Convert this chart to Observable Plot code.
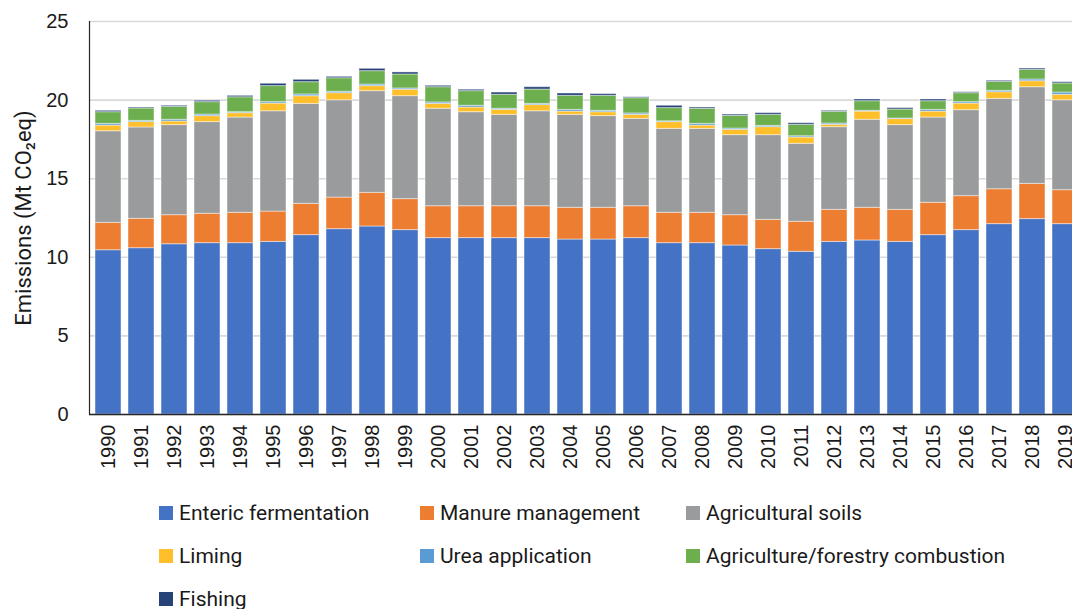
<!DOCTYPE html>
<html>
<head>
<meta charset="utf-8">
<script src="https://cdn.jsdelivr.net/npm/d3@7"></script>
<script src="https://cdn.jsdelivr.net/npm/@observablehq/plot@0.6"></script>
<style>
  html, body { margin: 0; padding: 0; background: #fff; overflow: hidden; width: 1072px; height: 609px; }
  #chart svg { overflow: hidden !important; max-width: none !important; display: block; }
  #legend { font-family: Roboto, "Noto Sans", sans-serif; font-size: 21px; color: #1a1a1a;
            padding-top: 11px; padding-left: 159px; display: grid;
            grid-template-columns: 261px 266px auto; grid-auto-rows: 43px; }
  .item { display: flex; align-items: center; height: 43px; white-space: nowrap; }
  .sw { width: 14px; height: 14px; margin-right: 6px; flex: none; }
</style>
</head>
<body>
<div id="chart"></div>
<div id="legend"></div>
<script>
const years = ["1990","1991","1992","1993","1994","1995","1996","1997","1998","1999",
  "2000","2001","2002","2003","2004","2005","2006","2007","2008","2009",
  "2010","2011","2012","2013","2014","2015","2016","2017","2018","2019"];
const seriesNames = ["Enteric fermentation","Manure management","Agricultural soils",
  "Liming","Urea application","Agriculture/forestry combustion","Fishing"];
const seriesColors = ["#4472c4","#ed7d31","#999b9c","#ffbf2a","#5b9bd5","#6daf4f","#264478"];

const enteric = [10.45,10.58,10.83,10.90,10.90,10.98,11.41,11.79,11.96,11.73,
  11.22,11.22,11.22,11.22,11.13,11.13,11.22,10.90,10.90,10.75,
  10.52,10.35,10.98,11.07,10.98,11.41,11.73,12.11,12.43,12.11];
const manure = [1.74,1.87,1.85,1.87,1.93,1.93,1.99,2.01,2.14,1.97,
  2.03,2.03,2.03,2.03,2.02,2.02,2.03,1.93,1.93,1.93,
  1.86,1.91,2.04,2.08,2.04,2.06,2.16,2.22,2.24,2.16];
const soils = [5.83,5.81,5.73,5.83,6.06,6.38,6.36,6.19,6.47,6.55,
  6.20,5.98,5.81,6.04,5.91,5.83,5.56,5.34,5.34,5.09,
  5.39,4.96,5.26,5.60,5.39,5.42,5.47,5.75,6.15,5.72];
const liming = [0.36,0.34,0.23,0.38,0.28,0.49,0.49,0.45,0.32,0.41,
  0.31,0.30,0.32,0.39,0.21,0.25,0.25,0.43,0.21,0.34,
  0.51,0.40,0.15,0.52,0.38,0.38,0.42,0.42,0.38,0.35];
const urea = [0.11,0.08,0.11,0.10,0.06,0.09,0.11,0.09,0.10,0.08,
  0.09,0.11,0.07,0.08,0.11,0.09,0.09,0.05,0.11,0.08,
  0.08,0.08,0.08,0.05,0.04,0.11,0.09,0.09,0.11,0.14];
const combustion = [0.74,0.79,0.82,0.79,0.95,1.02,0.78,0.86,0.85,0.89,
  0.97,0.93,0.89,0.91,0.89,0.95,0.97,0.84,0.96,0.81,
  0.70,0.73,0.75,0.61,0.57,0.55,0.57,0.57,0.62,0.58];
const fishing = [0.09,0.06,0.07,0.09,0.09,0.15,0.15,0.09,0.15,0.13,
  0.09,0.09,0.14,0.15,0.15,0.11,0.06,0.15,0.08,0.08,
  0.11,0.10,0.06,0.11,0.09,0.11,0.06,0.07,0.08,0.08];
const yTicks = [0,5,10,15,20,25];

const seriesValues = [enteric, manure, soils, liming, urea, combustion, fishing];
const data = [];
seriesNames.forEach((name, s) => {
  years.forEach((yr, i) => data.push({year: yr, source: name, value: seriesValues[s][i]}));
});

const chart = Plot.plot({
  width: 1072,
  height: 480,
  marginTop: 21,
  marginBottom: 66,
  marginLeft: 89,
  marginRight: 0,
  style: {fontFamily: "'Liberation Sans', Arial, sans-serif", fontSize: "20px", color: "#1a1a1a", overflow: "hidden"},
  x: {domain: years, range: [89, 1084], paddingInner: 0.2, paddingOuter: 0.1, label: null},
  y: {domain: [0, 25], label: null},
  color: {domain: seriesNames, range: seriesColors},
  marks: [
    Plot.gridY(yTicks, {stroke: "#d9d9d9", strokeOpacity: 1, strokeWidth: 1.6}),
    Plot.barY(data, Plot.stackY({
      x: "year", y: "value", fill: "source", order: seriesNames,
      stroke: "#ffffff", strokeOpacity: 0.45, strokeWidth: 1
    })),
    Plot.axisY(yTicks, {tickSize: 0, tickPadding: 21, fontSize: 20, label: null}),
    Plot.axisX({tickSize: 0, tickPadding: 10, tickRotate: -90, fontSize: 20, label: null}),
    Plot.text(["Emissions (Mt CO₂eq)"], {
      frameAnchor: "left", dx: -66, rotate: -90, fontSize: 22, textAnchor: "middle",
      fontFamily: "Roboto, 'Noto Sans', sans-serif", fill: "#1a1a1a", text: d => d
    }),
    Plot.ruleY([0], {stroke: "#262626", strokeWidth: 1.5}),
    Plot.frame({anchor: "left", stroke: "#262626", strokeWidth: 1.2})
  ]
});
document.getElementById("chart").appendChild(chart);

const legend = document.getElementById("legend");
seriesNames.forEach((name, i) => {
  const item = document.createElement("div");
  item.className = "item";
  const sw = document.createElement("span");
  sw.className = "sw";
  sw.style.background = seriesColors[i];
  item.appendChild(sw);
  item.appendChild(document.createTextNode(name));
  legend.appendChild(item);
});
</script>
</body>
</html>
